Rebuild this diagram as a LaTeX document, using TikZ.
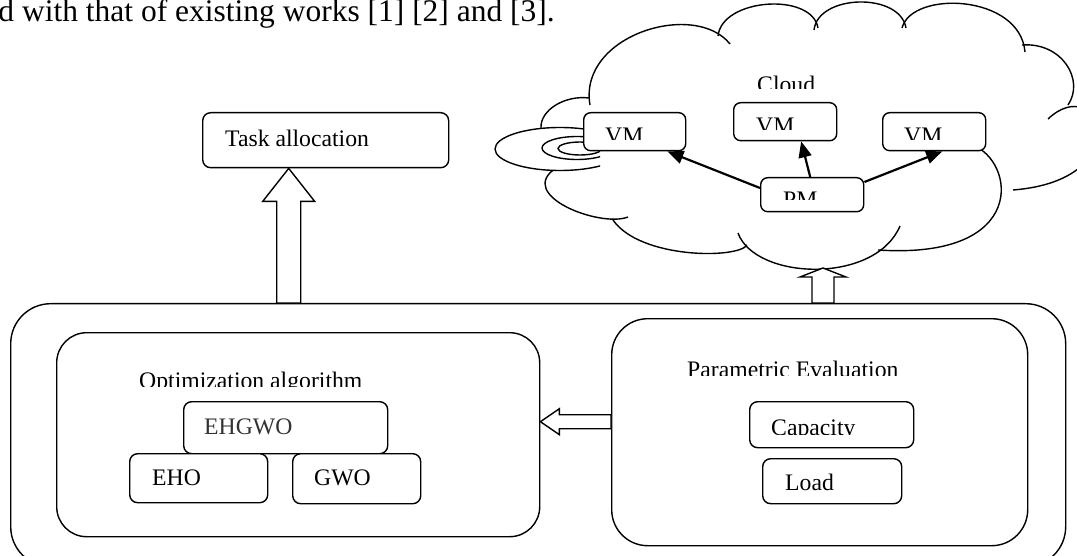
\documentclass[tikz,border=0pt]{standalone}
\usepackage{fontspec}
\setmainfont{Liberation Serif}
\usetikzlibrary{arrows.meta,calc}
\begin{document}
\begin{tikzpicture}[x=1pt,y=-1pt,
  ln/.style={line width=1.4pt},
  rbox/.style={draw, line width=1.4pt, fill=white, inner sep=0pt, anchor=north west},
  lbl/.style={inner sep=0pt, anchor=base west, font=\fontsize{23.7}{28}\selectfont},
  hollow/.style={draw, line width=1.4pt, fill=white, line join=miter},
  solidarrow/.style={line width=2.2pt, -{Triangle[length=16pt,width=13pt]}},
]
\useasboundingbox (0,0) rectangle (1077,556);
\clip (0,0) rectangle (1077,556);

% top text line
\node[inner sep=0pt, anchor=base east, font=\fontsize{31.5}{36}\selectfont] (toptext) at (555,21.5) {d with that of existing works [1] [2] and [3].};

% ---------- cloud ----------
\draw[ln] (541,128) .. controls (540,110) and (565,95) .. (589,98);
\draw[ln] (590,105) .. controls (578,35) and (695,0) .. (730,44);
\draw[ln] (718,36) .. controls (722,-2) and (812,-8) .. (818,28);
\draw[ln] (814,30) .. controls (818,-6) and (900,-8) .. (906,28);
\draw[ln] (902,28) .. controls (912,-10) and (1020,-6) .. (1025,52);
\draw[ln] (1022,45) .. controls (1062,42) and (1085,80) .. (1068,105);
\draw[ln] (1048,119) .. controls (1100,70) and (1140,180) .. (1013,190);
\draw[ln] (972,145) .. controls (1015,160) and (1030,260) .. (878,250);
\draw[ln] (738,233) .. controls (755,280) and (875,285) .. (900,226);
\draw[ln] (747,245) .. controls (738,259) and (640,259) .. (613,220);
\draw[ln] (628,217) .. controls (600,228) and (515,195) .. (556,168);
\begin{scope}
  \clip (0,0) rectangle (600,556);
  \draw[ln, fill=white] (560,149) ellipse [x radius=65, y radius=21.5];
  \draw[ln, fill=white] (577,148) ellipse [x radius=35, y radius=11.5];
  \draw[ln, fill=white] (580,148.5) ellipse [x radius=22, y radius=6.5];
\end{scope}

% ---------- boxes ----------
\node[rbox, rounded corners=8pt, minimum width=246pt, minimum height=55pt] (task) at (202,112) {};
\node[rbox, rounded corners=7pt, minimum width=102pt, minimum height=38pt] (vmL) at (583,112) {};
\node[rbox, rounded corners=7pt, minimum width=103pt, minimum height=38pt] (vmM) at (733,102) {};
\node[rbox, rounded corners=7pt, minimum width=103pt, minimum height=38pt] (vmR) at (882,112) {};
\node[rbox, rounded corners=7pt, minimum width=103pt, minimum height=34pt] (pm) at (760,177) {};

\node[rbox, fill=none, rounded corners=40pt, minimum width=1055pt, minimum height=263pt] (outer) at (10,303) {};
\node[rbox, rounded corners=30pt, minimum width=483pt, minimum height=204pt] (opt) at (56,332) {};
\node[rbox, rounded corners=36pt, minimum width=416pt, minimum height=227pt] (param) at (611,318) {};
\node[rbox, rounded corners=8pt, minimum width=204pt, minimum height=52pt] (ehgwo) at (183,401) {};
\node[rbox, rounded corners=8pt, minimum width=138pt, minimum height=49pt] (eho) at (129,453) {};
\node[rbox, rounded corners=8pt, minimum width=128pt, minimum height=50pt] (gwo) at (292,453) {};
\node[rbox, rounded corners=8pt, minimum width=164pt, minimum height=46pt] (cap) at (749,401) {};
\node[rbox, rounded corners=8pt, minimum width=139pt, minimum height=45pt] (load) at (762,458) {};

% ---------- hollow arrows ----------
\coordinate (h1) at ($(task.south)+(-37,0)$);
\draw[hollow] (h1) -- ++(26,33) -- ++(-14,0) -- ($(h1|-outer.north)+(12,0)$)
  -- ($(h1|-outer.north)+(-12,0)$) -- ($(h1)+(-12,33)$) -- ($(h1)+(-26,33)$) -- cycle;
\coordinate (cloudbot) at (823,268);
\draw[hollow] (cloudbot) -- ++(23,9) -- ++(-12,0) -- ($(cloudbot|-outer.north)+(11,0)$)
  -- ($(cloudbot|-outer.north)+(-11,0)$) -- ($(cloudbot)+(-11,9)$) -- ($(cloudbot)+(-23,9)$) -- cycle;
\coordinate (h3) at ($(opt.east)+(0,-13)$);
\draw[hollow] (h3) -- ++(19,-13) -- ++(0,6) -- ($(h3-|param.west)+(0,-7)$)
  -- ($(h3-|param.west)+(0,7)$) -- ($(h3)+(19,7)$) -- ($(h3)+(19,13)$) -- cycle;

% ---------- solid arrows ----------
\draw[solidarrow] ($(pm.north west)+(0,11)$) -- ($(vmL.south east)+(-19,0)$);
\draw[solidarrow] ($(pm.north)+(-2,0)$) -- ($(vmM.south)+(16,0)$);
\draw[solidarrow] ($(pm.north east)+(0,5)$) -- ($(vmR.south)+(8,0)$);

% ---------- texts ----------
\node[lbl] (taskt) at (225,147) {Task allocation};
\begin{scope}\clip (740,60) rectangle (830,89); \node[lbl] (cloudt) at (757,92.6) {Cloud}; \end{scope}
\begin{scope}\clip (vmL.north west) rectangle (685,140); \node[lbl] (vmLt) at (605,143.6) {VM}; \end{scope}
\begin{scope}\clip (vmM.north west) rectangle (836,130); \node[lbl] (vmMt) at (756,133.6) {VM}; \end{scope}
\begin{scope}\clip (vmR.north west) rectangle (985,140); \node[lbl] (vmRt) at (904,143.6) {VM}; \end{scope}
\begin{scope}\clip (pm.north west) rectangle (863,200); \node[lbl] (pmt) at (783,207.6) {PM}; \end{scope}
\begin{scope}\clip (100,360) rectangle (400,386); \node[lbl] (optt) at (139,388.6) {Optimization algorithm}; \end{scope}
\node[lbl, text=black!80] (ehgwot) at (204,434.8) {EHGWO};
\node[lbl] (ehot) at (152,485.3) {EHO};
\node[lbl] (gwot) at (314,485.3) {GWO};
\begin{scope}\clip (650,350) rectangle (950,375.5); \node[lbl] (paramt) at (687,377.6) {Parametric Evaluation}; \end{scope}
\begin{scope}\clip (cap.north west) rectangle (913,434.5); \node[lbl] (capt) at (771,435.5) {Capacity}; \end{scope}
\node[lbl] (loadt) at (785,490) {Load};
\end{tikzpicture}
\end{document}
